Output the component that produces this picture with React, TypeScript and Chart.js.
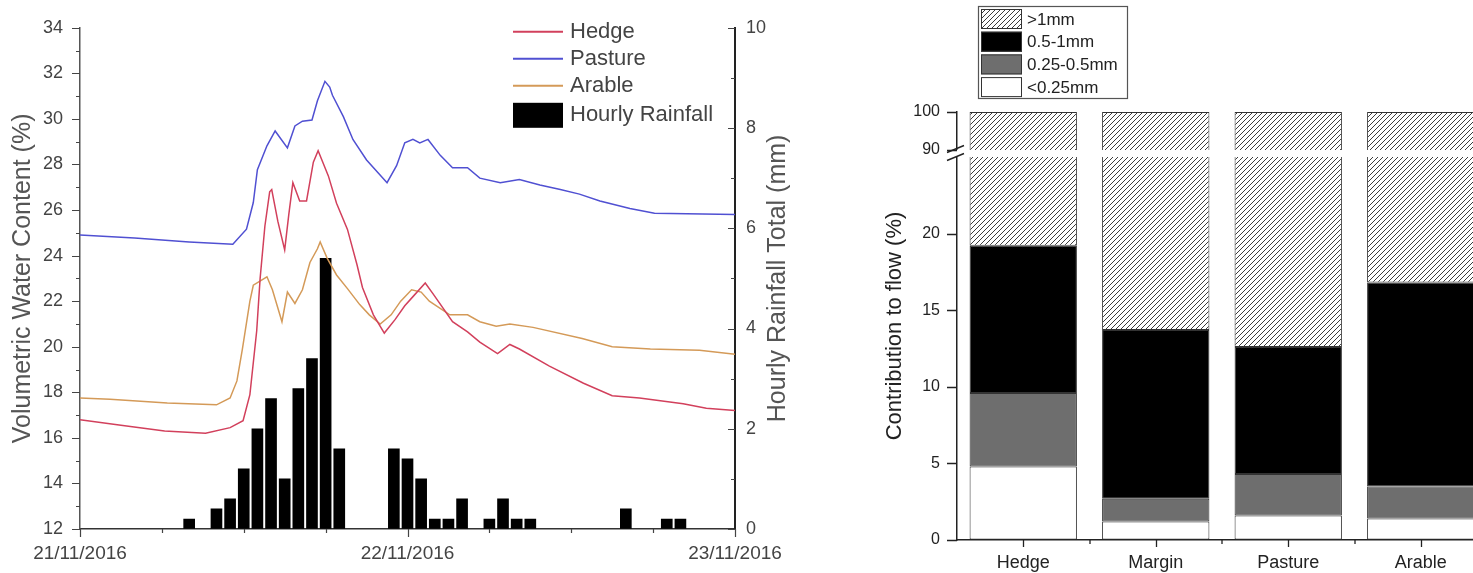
import React, { useEffect, useRef } from 'react';
import { Chart, registerables, LinearScale } from 'chart.js';

Chart.register(...registerables);

const FONT = '"Liberation Sans", Arial, Helvetica, sans-serif';

// ---------- Left chart: soil moisture & rainfall ----------
const dateLabels = ['21/11/2016', '22/11/2016', '23/11/2016'];

const hedgeHours = [0, 3, 6.2, 9.2, 11, 11.95, 12.45, 12.95, 13.2, 13.55, 13.9, 14.05, 14.5, 15, 15.3, 15.6, 16.1, 16.6, 17.1, 17.45, 18.2, 18.8, 19.6, 20.3, 20.7, 21.5, 22.3, 23.1, 23.8, 24.4, 25.3, 25.9, 27.3, 28.4, 29.3, 30.6, 31.5, 32.2, 34.4, 36.9, 39, 41, 44.2, 45.9, 48];
const hedgeVWC = [16.8, 16.55, 16.3, 16.2, 16.45, 16.75, 17.9, 20.7, 23.0, 25.3, 26.8, 26.9, 25.5, 24.25, 25.8, 27.2, 26.4, 26.4, 28.1, 28.6, 27.5, 26.3, 25.15, 23.6, 22.6, 21.4, 20.6, 21.2, 21.8, 22.2, 22.8, 22.3, 21.1, 20.65, 20.2, 19.7, 20.1, 19.9, 19.15, 18.4, 17.85, 17.75, 17.5, 17.3, 17.2];

const pastureHours = [0, 4, 8, 11.2, 12.2, 12.7, 13.0, 13.7, 14.3, 15.2, 15.75, 16.3, 17, 17.4, 17.95, 18.3, 18.5, 19.3, 20, 21, 22.5, 23.2, 23.8, 24.4, 24.9, 25.5, 26.4, 27.3, 28.4, 29.3, 30.8, 32.2, 33.7, 35.2, 36.6, 38.1, 40.3, 42.1, 48];
const pastureVWC = [24.9, 24.77, 24.6, 24.5, 25.16, 26.33, 27.77, 28.82, 29.47, 28.73, 29.69, 29.9, 29.95, 30.8, 31.65, 31.4, 31.04, 30.1, 29.1, 28.2, 27.2, 27.95, 28.95, 29.1, 28.95, 29.1, 28.4, 27.86, 27.86, 27.4, 27.2, 27.34, 27.1, 26.9, 26.7, 26.4, 26.07, 25.86, 25.8];

const arableHours = [0, 2.2, 6.4, 10, 11, 11.5, 11.9, 12.45, 12.7, 13.7, 14.1, 14.8, 15.2, 15.75, 16.3, 16.85, 17.4, 17.6, 18.1, 18.8, 19.6, 20.5, 21.2, 22, 22.8, 23.5, 24.3, 25, 25.6, 27.1, 28.4, 29.3, 30.5, 31.5, 33.2, 36.8, 39, 41.8, 45.4, 48];
const arableVWC = [17.75, 17.7, 17.53, 17.45, 17.75, 18.5, 19.9, 22.0, 22.7, 23.07, 22.5, 21.1, 22.4, 21.9, 22.5, 23.7, 24.3, 24.6, 23.9, 23.15, 22.55, 21.85, 21.4, 21.0, 21.4, 22.0, 22.5, 22.4, 22.0, 21.4, 21.4, 21.1, 20.9, 21.0, 20.85, 20.36, 20.0, 19.9, 19.85, 19.67];

const rainHours = [8, 10, 11, 12, 13, 14, 15, 16, 17, 18, 19, 23, 24, 25, 26, 27, 28, 30, 31, 32, 33, 40, 43, 44];
const rainMm = [0.2, 0.4, 0.6, 1.2, 2.0, 2.6, 1.0, 2.8, 3.4, 5.4, 1.6, 1.6, 1.4, 1.0, 0.2, 0.2, 0.6, 0.2, 0.6, 0.2, 0.2, 0.4, 0.2, 0.2];

// ---------- Right chart: contribution to flow ----------
const sites = ['Hedge', 'Margin', 'Pasture', 'Arable'];
const lt025 = [4.8, 1.2, 1.6, 1.4];
const r025to05 = [4.8, 1.5, 2.7, 2.1];
const r05to1 = [9.6, 11.0, 8.3, 13.3];
const gt1 = [80.8, 86.3, 87.4, 83.2];
const flowTicks = [0, 5, 10, 15, 20, 90, 100];

const HEDGE_COLOR = '#d2405c';
const PASTURE_COLOR = '#5050d2';
const ARABLE_COLOR = '#d49a58';

const toXY = (xs: number[], ys: number[]) => xs.map((x, i) => ({ x, y: ys[i] }));

// Broken axis: lower segment 0..25, upper segment 90..100
const LOW_MAX = 25;
const HIGH_MIN = 90;
const LOW_FRAC = 383 / 428;
const HIGH_FRAC = 390 / 428;

function brokenFrac(v: number, max: number) {
  if (v <= LOW_MAX) return (v / LOW_MAX) * LOW_FRAC;
  if (v >= HIGH_MIN) return HIGH_FRAC + ((v - HIGH_MIN) / (max - HIGH_MIN)) * (1 - HIGH_FRAC);
  return LOW_FRAC + ((v - LOW_MAX) / (HIGH_MIN - LOW_MAX)) * (HIGH_FRAC - LOW_FRAC);
}

class BrokenScale extends (LinearScale as any) {
  static id = 'broken';
  buildTicks() {
    (this as any).start = (this as any).min;
    (this as any).end = (this as any).max;
    return flowTicks.map((value) => ({ value }));
  }
  getPixelForValue(value: any) {
    if (value === null || value === undefined || isNaN(value)) return NaN;
    return (this as any).getPixelForDecimal(brokenFrac(value, (this as any).max));
  }
  getValueForPixel(pixel: number) {
    const d = (this as any).getDecimalForPixel(pixel);
    const max = (this as any).max;
    if (d <= LOW_FRAC) return (d / LOW_FRAC) * LOW_MAX;
    if (d >= HIGH_FRAC) return HIGH_MIN + ((d - HIGH_FRAC) / (1 - HIGH_FRAC)) * (max - HIGH_MIN);
    return LOW_MAX + ((d - LOW_FRAC) / (HIGH_FRAC - LOW_FRAC)) * (HIGH_MIN - LOW_MAX);
  }
}
Chart.register(BrokenScale as any);

function drawRotated(ctx: CanvasRenderingContext2D, text: string, x: number, y: number, font: string, color: string) {
  ctx.save();
  ctx.translate(x, y);
  ctx.rotate(-Math.PI / 2);
  ctx.font = font;
  ctx.fillStyle = color;
  ctx.textAlign = 'center';
  ctx.textBaseline = 'middle';
  ctx.fillText(text, 0, 0);
  ctx.restore();
}

const leftDecor = {
  id: 'leftDecor',
  afterDraw(chart: any) {
    const { ctx, chartArea: ca, scales } = chart;
    const x = scales.x, y = scales.y, y2 = scales.y2;
    ctx.save();
    ctx.strokeStyle = '#444';
    ctx.lineWidth = 1.2;
    ctx.beginPath();
    for (let v = y.min; v <= y.max; v++) {
      const py = Math.round(y.getPixelForValue(v)) + 0.5;
      const len = v % 2 === 0 ? 8 : 4;
      ctx.moveTo(ca.left - len, py);
      ctx.lineTo(ca.left, py);
    }
    for (let v = y2.min; v <= y2.max; v++) {
      const py = Math.round(y2.getPixelForValue(v)) + 0.5;
      const len = v % 2 === 0 ? 7 : 4;
      ctx.moveTo(ca.right - len, py);
      ctx.lineTo(ca.right, py);
    }
    for (let h = x.min; h <= x.max; h += 6) {
      const px = Math.round(x.getPixelForValue(h)) + 0.5;
      const len = h % 24 === 0 ? 8 : 4;
      ctx.moveTo(px, ca.bottom);
      ctx.lineTo(px, ca.bottom + len);
    }
    ctx.stroke();

    const midY = (ca.top + ca.bottom) / 2;
    drawRotated(ctx, 'Volumetric Water Content (%)', ca.left - 57, midY, `25px ${FONT}`, '#555');
    drawRotated(ctx, 'Hourly Rainfall Total (mm)', ca.right + 43, midY, `25px ${FONT}`, '#555');

    // legend
    const lx = ca.right - 222;
    const ly = ca.top + 4;
    ctx.font = `22px ${FONT}`;
    ctx.textAlign = 'left';
    ctx.textBaseline = 'middle';
    chart.data.datasets.forEach((ds: any, i: number) => {
      const yy = ly + i * 27 + (ds.type === 'bar' ? 2 : 0);
      if (ds.type === 'bar') {
        ctx.fillStyle = ds.backgroundColor;
        ctx.fillRect(lx, yy - 12, 50, 25);
      } else {
        ctx.strokeStyle = ds.borderColor;
        ctx.lineWidth = 2;
        ctx.beginPath();
        ctx.moveTo(lx, yy);
        ctx.lineTo(lx + 50, yy);
        ctx.stroke();
      }
      ctx.fillStyle = '#444';
      ctx.fillText(ds.label, lx + 57, yy);
    });
    ctx.restore();
  },
};

const rightDecor = {
  id: 'rightDecor',
  afterDraw(chart: any) {
    const { ctx, chartArea: ca, scales } = chart;
    const x = scales.x, y = scales.y;
    ctx.save();
    // break gap
    const gTop = y.getPixelForValue(HIGH_MIN);
    const gBot = y.getPixelForValue(LOW_MAX);
    ctx.fillStyle = '#fff';
    ctx.fillRect(ca.left - 3, gTop, ca.right - ca.left + 6, gBot - gTop);
    ctx.strokeStyle = '#222';
    ctx.lineWidth = 1.4;
    ctx.beginPath();
    [gTop - 1, gBot].forEach((yy) => {
      ctx.moveTo(ca.left - 10, yy + 3.5);
      ctx.lineTo(ca.left + 7, yy - 3.5);
    });
    ctx.stroke();
    // ticks
    ctx.lineWidth = 1.3;
    ctx.beginPath();
    y.ticks.forEach((t: any) => {
      const py = Math.round(y.getPixelForValue(t.value)) + 0.5;
      ctx.moveTo(ca.left - 10, py);
      ctx.lineTo(ca.left, py);
    });
    const half = (x.getPixelForValue(1) - x.getPixelForValue(0)) / 2;
    sites.forEach((_, i) => {
      const px = Math.round(x.getPixelForValue(i)) + 0.5;
      ctx.moveTo(px, ca.bottom);
      ctx.lineTo(px, ca.bottom + 7);
      if (i > 0) {
        const bx = Math.round(px - half);
        ctx.moveTo(bx, ca.bottom);
        ctx.lineTo(bx, ca.bottom + 4);
      }
    });
    ctx.stroke();
    // title
    drawRotated(ctx, 'Contribution to flow (%)', ca.left - 62, (ca.top + ca.bottom) / 2, `22px ${FONT}`, '#222');
    // legend box
    const bx = ca.left + 21;
    const by = 6;
    const bw = 149;
    const bh = 92;
    ctx.fillStyle = '#fff';
    ctx.fillRect(bx, by, bw, bh);
    ctx.strokeStyle = '#555';
    ctx.lineWidth = 1.2;
    ctx.strokeRect(bx + 0.5, by + 0.5, bw, bh);
    const ds = chart.data.datasets.slice().reverse();
    ctx.font = `17px ${FONT}`;
    ctx.textAlign = 'left';
    ctx.textBaseline = 'middle';
    ds.forEach((d: any, i: number) => {
      const ry = by + 3 + i * 22.7;
      ctx.fillStyle = d.backgroundColor;
      ctx.fillRect(bx + 3, ry, 41, 20);
      ctx.strokeStyle = '#333';
      ctx.lineWidth = 1;
      ctx.strokeRect(bx + 3.5, ry + 0.5, 40, 19);
      ctx.fillStyle = '#222';
      ctx.fillText(d.label, bx + 49, ry + 11);
    });
    ctx.restore();
  },
};

function makeHatch(): any {
  const c = document.createElement('canvas');
  c.width = 5;
  c.height = 5;
  const g = c.getContext('2d')!;
  g.fillStyle = '#fff';
  g.fillRect(0, 0, 5, 5);
  g.strokeStyle = '#3c3c3c';
  g.lineWidth = 1;
  g.beginPath();
  g.moveTo(-1, 6);
  g.lineTo(6, -1);
  g.moveTo(-1, 1);
  g.lineTo(1, -1);
  g.moveTo(4, 6);
  g.lineTo(6, 4);
  g.stroke();
  return g.createPattern(c, 'repeat');
}

function LeftChart() {
  const ref = useRef<HTMLCanvasElement>(null);
  useEffect(() => {
    const tickFont = { family: FONT, size: 18 };
    const chart = new Chart(ref.current!, {
      type: 'bar',
      data: {
        datasets: [
          { type: 'line', label: 'Hedge', data: toXY(hedgeHours, hedgeVWC), borderColor: HEDGE_COLOR, borderWidth: 1.5, pointRadius: 0, tension: 0, yAxisID: 'y', order: 0 } as any,
          { type: 'line', label: 'Pasture', data: toXY(pastureHours, pastureVWC), borderColor: PASTURE_COLOR, borderWidth: 1.5, pointRadius: 0, tension: 0, yAxisID: 'y', order: 0 } as any,
          { type: 'line', label: 'Arable', data: toXY(arableHours, arableVWC), borderColor: ARABLE_COLOR, borderWidth: 1.5, pointRadius: 0, tension: 0, yAxisID: 'y', order: 0 } as any,
          { type: 'bar', label: 'Hourly Rainfall', data: toXY(rainHours, rainMm), backgroundColor: '#000', barThickness: 11, yAxisID: 'y2', order: 1 } as any,
        ],
      },
      options: {
        responsive: false,
        animation: false,
        devicePixelRatio: 1,
        layout: { padding: { top: 24, left: 0, right: 0, bottom: 0 } },
        plugins: { legend: { display: false }, tooltip: { enabled: false } },
        scales: {
          x: {
            type: 'linear',
            min: 0,
            max: 48,
            offset: false,
            ticks: {
              stepSize: 6,
              autoSkip: false,
              maxRotation: 0,
              padding: 13,
              color: '#444',
              font: { family: FONT, size: 19 },
              callback: (v: any) => (v % 24 === 0 ? dateLabels[v / 24] : ''),
            },
            grid: { drawOnChartArea: false, drawTicks: false },
            border: { color: '#333', width: 1.5 },
            afterFit: (s: any) => { s.height = 44; },
          } as any,
          y: {
            position: 'left',
            min: 12,
            max: 34,
            ticks: {
              stepSize: 1,
              autoSkip: false,
              padding: 17,
              color: '#444',
              font: tickFont,
              callback: (v: any) => (v % 2 === 0 ? String(v) : ''),
            },
            grid: { drawOnChartArea: false, drawTicks: false },
            border: { color: '#555', width: 1.5 },
            afterFit: (s: any) => { s.width = 80; },
          } as any,
          y2: {
            position: 'right',
            min: 0,
            max: 10,
            ticks: {
              stepSize: 1,
              autoSkip: false,
              padding: 11,
              color: '#444',
              font: tickFont,
              callback: (v: any) => (v % 2 === 0 ? String(v) : ''),
            },
            grid: { drawOnChartArea: false, drawTicks: false },
            border: { color: '#222', width: 2 },
            afterFit: (s: any) => { s.width = 65; },
          } as any,
        },
      },
      plugins: [leftDecor],
    } as any);
    return () => chart.destroy();
  }, []);
  return <canvas ref={ref} width={800} height={573} style={{ position: 'absolute', left: 0, top: 0, width: 800, height: 573 }} />;
}

function RightChart() {
  const ref = useRef<HTMLCanvasElement>(null);
  useEffect(() => {
    const hatch = makeHatch();
    const common = { borderColor: '#333', borderWidth: 1, borderSkipped: false, barPercentage: 0.81, categoryPercentage: 1 };
    const chart = new Chart(ref.current!, {
      type: 'bar',
      data: {
        labels: sites,
        datasets: [
          { label: '<0.25mm', data: lt025, backgroundColor: '#ffffff', ...common },
          { label: '0.25-0.5mm', data: r025to05, backgroundColor: '#6e6e6e', ...common },
          { label: '0.5-1mm', data: r05to1, backgroundColor: '#000000', ...common },
          { label: '>1mm', data: gt1, backgroundColor: hatch, ...common },
        ],
      },
      options: {
        responsive: false,
        animation: false,
        devicePixelRatio: 1,
        layout: { padding: { top: 112, left: 0, right: 5, bottom: 0 } },
        plugins: { legend: { display: false }, tooltip: { enabled: false } },
        scales: {
          x: {
            stacked: true,
            ticks: { padding: 12, color: '#222', font: { family: FONT, size: 18 }, maxRotation: 0 },
            grid: { drawOnChartArea: false, drawTicks: false },
            border: { color: '#222', width: 1.5 },
            afterFit: (s: any) => { s.height = 33; },
          },
          y: {
            type: 'broken',
            stacked: true,
            min: 0,
            max: 100,
            ticks: { padding: 17, autoSkip: false, color: '#222', font: { family: FONT, size: 16 } },
            grid: { drawOnChartArea: false, drawTicks: false },
            border: { color: '#222', width: 1.5 },
            afterFit: (s: any) => { s.width = 127; },
          },
        },
      },
      plugins: [rightDecor],
    } as any);
    return () => chart.destroy();
  }, []);
  return <canvas ref={ref} width={662} height={573} style={{ position: 'absolute', left: 830, top: 0, width: 662, height: 573 }} />;
}

export default function App() {
  return (
    <div style={{ position: 'fixed', left: 0, top: 0, width: 1473, height: 573, overflow: 'hidden', background: '#fff' }}>
      <LeftChart />
      <RightChart />
    </div>
  );
}
